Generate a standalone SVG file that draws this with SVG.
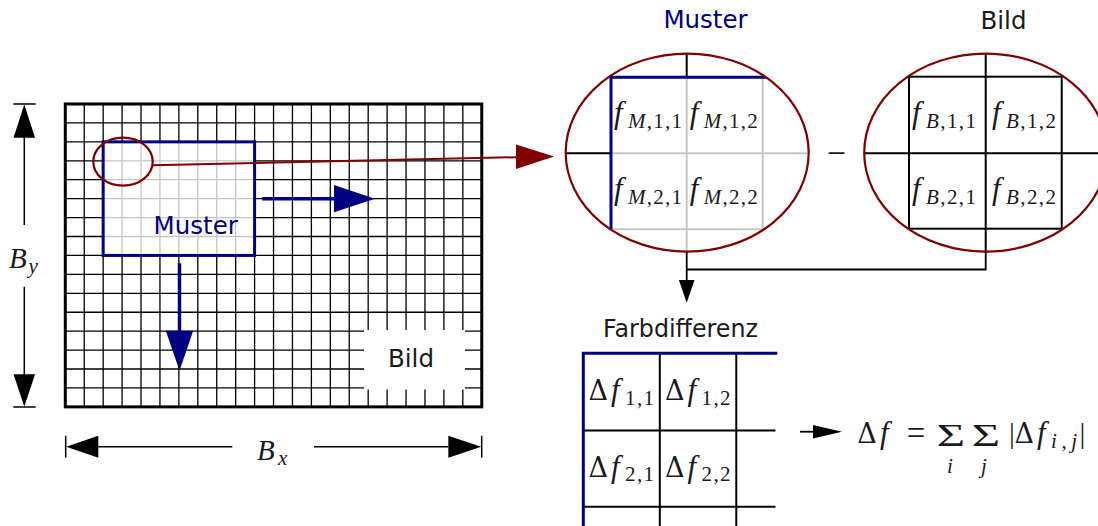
<svg xmlns="http://www.w3.org/2000/svg" width="1098" height="526" viewBox="0 0 1098 526">
<defs>
<style>
.grid{stroke:#000;stroke-width:1.3;fill:none}
.lgrid{stroke:#c6c6c6;stroke-width:1.3;fill:none}
.lgrid2{stroke:#c6c6c6;stroke-width:2;fill:none}
.blue{stroke:#000080;stroke-width:3;fill:none}
.red{stroke:#800000;stroke-width:2.2;fill:none}
.blk{stroke:#000;stroke-width:2;fill:none}
.dim{stroke:#000;stroke-width:1.5;fill:none}
.sans{font-family:"DejaVu Sans",sans-serif;font-size:24.5px;fill:#1a1a1a}
.navy{fill:#000080}
.m{font-family:"Liberation Serif",serif;font-size:29px;fill:#1a1a1a}
.it{font-style:italic}
.ff{font-style:italic;font-size:31px}
.s{font-size:21px}
.d{font-family:"DejaVu Serif",serif;font-size:27px}
.big{font-size:36px}
.sig{font-size:32px}
</style>
<clipPath id="clipM"><ellipse cx="687.2" cy="152.6" rx="121.5" ry="99"/></clipPath>
<clipPath id="clipB"><ellipse cx="985.7" cy="152.6" rx="121.5" ry="99"/></clipPath>
</defs>
<rect width="1098" height="526" fill="#fff"/>

<g id="image-grid">
<path class="grid" d="M84.23 104V406.88M103.16 104V406.88M122.09 104V406.88M141.02 104V406.88M159.95 104V406.88M178.88 104V406.88M197.81 104V406.88M216.74 104V406.88M235.67 104V406.88M254.6 104V406.88M273.53 104V406.88M292.46 104V406.88M311.39 104V406.88M330.32 104V406.88M349.25 104V406.88M368.18 104V406.88M387.11 104V406.88M406.04 104V406.88M424.97 104V406.88M443.9 104V406.88M462.83 104V406.88M65.3 122.93H481.76M65.3 141.86H481.76M65.3 160.79H481.76M65.3 179.72H481.76M65.3 198.65H481.76M65.3 217.58H481.76M65.3 236.51H481.76M65.3 255.44H481.76M65.3 274.37H481.76M65.3 293.3H481.76M65.3 312.23H481.76M65.3 331.16H481.76M65.3 350.09H481.76M65.3 369.02H481.76M65.3 387.95H481.76"/>
<rect x="103.16" y="141.86" width="151.44" height="113.58" fill="#fff"/>
<path class="lgrid" d="M122.09 141.86V255.44M141.02 141.86V255.44M159.95 141.86V255.44M178.88 141.86V255.44M197.81 141.86V255.44M216.74 141.86V255.44M235.67 141.86V255.44M103.16 160.79H254.6M103.16 179.72H254.6M103.16 198.65H254.6M103.16 217.58H254.6M103.16 236.51H254.6"/>
<rect x="364" y="330" width="101" height="59.5" fill="#fff"/>
<text class="sans" x="411" y="367.3" text-anchor="middle">Bild</text>
<rect x="65.3" y="104" width="416.46" height="302.88" fill="none" stroke="#000" stroke-width="3"/>
</g>

<g id="muster-window">
<rect class="blue" x="103.16" y="141.86" width="151.44" height="113.58"/>
<text class="sans navy" x="195.7" y="234" text-anchor="middle">Muster</text>
</g>

<g id="zoom-marker">
<ellipse class="red" cx="123" cy="161.7" rx="29.7" ry="24"/>
</g>

<g id="dim-y">
<path class="dim" d="M13.3 104H35.7M13.3 406.9H35.7M24.3 137.7V225M24.3 286.7V374.3"/>
<polygon points="24.3,104.5 13.5,137.7 35.1,137.7" fill="#000"/>
<polygon points="24.3,406.4 13.5,374.3 35.1,374.3" fill="#000"/>
<text class="m"><tspan class="it" x="9" y="268.3">B</tspan><tspan class="it s" x="28.5" y="272.8">y</tspan></text>
</g>

<g id="dim-x">
<path class="dim" d="M65.7 435.7V457.7M481.7 435.7V457.7M98.3 446.7H232.3M314 446.7H448.3"/>
<polygon points="66.2,446.7 98.3,435.7 98.3,457.7" fill="#000"/>
<polygon points="481.2,446.7 448.3,435.7 448.3,457.7" fill="#000"/>
<text class="m"><tspan class="it" x="257" y="460">B</tspan><tspan class="it s" x="278" y="464.5">x</tspan></text>
</g>

<g id="muster-zoom">
<text class="sans navy" x="705.5" y="28" text-anchor="middle">Muster</text>
<g clip-path="url(#clipM)">
<path class="blk" d="M560 153.3H611M686.7 48V77.3"/>
<path class="lgrid2" d="M611 153.3H815M686.7 77.3V260M762.7 77.3V229.3M611 229.3H762.7"/>
<path class="blue" d="M611 229.3V77.3H770"/>
</g>
<ellipse class="red" cx="687.2" cy="152.6" rx="121.5" ry="99"/>
<text class="m"><tspan class="ff" x="614" y="123">f</tspan><tspan class="s" x="628" y="127.5" textLength="54" lengthAdjust="spacing"><tspan class="it">M</tspan>,1,1</tspan></text>
<text class="m"><tspan class="ff" x="689.7" y="123">f</tspan><tspan class="s" x="703.7" y="127.5" textLength="54" lengthAdjust="spacing"><tspan class="it">M</tspan>,1,2</tspan></text>
<text class="m"><tspan class="ff" x="614" y="199">f</tspan><tspan class="s" x="628" y="203.5" textLength="54" lengthAdjust="spacing"><tspan class="it">M</tspan>,2,1</tspan></text>
<text class="m"><tspan class="ff" x="689.7" y="199">f</tspan><tspan class="s" x="703.7" y="203.5" textLength="54" lengthAdjust="spacing"><tspan class="it">M</tspan>,2,2</tspan></text>
</g>

<g id="minus">
<text class="m big" x="836.5" y="165" text-anchor="middle" textLength="19" lengthAdjust="spacingAndGlyphs">−</text>
</g>

<g id="bild-zoom">
<text class="sans" x="1003.5" y="29" text-anchor="middle">Bild</text>
<g clip-path="url(#clipB)">
<path class="blk" d="M860 153.3H1110M985.7 48V260"/>
</g>
<rect class="blk" x="909" y="76.7" width="152.7" height="152"/>
<ellipse class="red" cx="985.7" cy="152.6" rx="121.5" ry="99"/>
<text class="m"><tspan class="ff" x="912" y="123">f</tspan><tspan class="s" x="926" y="127.5" textLength="50" lengthAdjust="spacing"><tspan class="it">B</tspan>,1,1</tspan></text>
<text class="m"><tspan class="ff" x="992" y="123">f</tspan><tspan class="s" x="1006" y="127.5" textLength="50" lengthAdjust="spacing"><tspan class="it">B</tspan>,1,2</tspan></text>
<text class="m"><tspan class="ff" x="912" y="199">f</tspan><tspan class="s" x="926" y="203.5" textLength="50" lengthAdjust="spacing"><tspan class="it">B</tspan>,2,1</tspan></text>
<text class="m"><tspan class="ff" x="992" y="199">f</tspan><tspan class="s" x="1006" y="203.5" textLength="50" lengthAdjust="spacing"><tspan class="it">B</tspan>,2,2</tspan></text>
</g>

<g id="farbdifferenz">
<text class="sans" x="603" y="336.7" textLength="155" lengthAdjust="spacingAndGlyphs">Farbdifferenz</text>
<path class="blk" d="M659.8 353.3V526M736.3 353.3V526M583.3 430.5H775.5M583.3 506.7H775.5"/>
<path class="blue" d="M583.3 526V353.3H777.3"/>
<text class="m"><tspan class="d" x="588.5" y="400">Δ</tspan><tspan class="ff" x="611" y="400">f</tspan><tspan class="s" x="625" y="404.5" textLength="29">1,1</tspan></text>
<text class="m"><tspan class="d" x="665" y="400">Δ</tspan><tspan class="ff" x="687.5" y="400">f</tspan><tspan class="s" x="701.5" y="404.5" textLength="29">1,2</tspan></text>
<text class="m"><tspan class="d" x="588.5" y="476.5">Δ</tspan><tspan class="ff" x="611" y="476.5">f</tspan><tspan class="s" x="625" y="481" textLength="29">2,1</tspan></text>
<text class="m"><tspan class="d" x="665" y="476.5">Δ</tspan><tspan class="ff" x="687.5" y="476.5">f</tspan><tspan class="s" x="701.5" y="481" textLength="29">2,2</tspan></text>
</g>

<g id="formula">
<text class="m"><tspan class="d" x="857.3" y="443.3">Δ</tspan><tspan class="ff" x="880" y="443.3">f</tspan><tspan x="1009" y="443.3">|</tspan><tspan class="d" x="1014.5" y="443.3">Δ</tspan><tspan class="ff" x="1037" y="443.3">f</tspan><tspan class="s" x="1051" y="447.8" textLength="26"><tspan class="it">i</tspan>,<tspan class="it">j</tspan></tspan><tspan x="1079.5" y="443.3">|</tspan></text>
<text class="m big" x="906.7" y="445" textLength="18.5" lengthAdjust="spacingAndGlyphs">=</text>
<text class="m sig" x="936.7" y="446" textLength="28.3" lengthAdjust="spacingAndGlyphs">Σ</text>
<text class="m sig" x="971.7" y="446" textLength="28.3" lengthAdjust="spacingAndGlyphs">Σ</text>
<text class="m it s" x="947" y="473">i</text>
<text class="m it s" x="981" y="473">j</text>
</g>

<g id="connectors">
<path d="M153 165.2L517 157.2" stroke="#800000" stroke-width="2" fill="none"/>
<polygon points="554,156.4 516,144.6 516,169" fill="#800000"/>
<path d="M262.3 198.65H335" stroke="#000080" stroke-width="3.5" fill="none"/>
<polygon points="375,198.65 334,185 334,212.3" fill="#000080"/>
<path d="M179.5 263.3V332" stroke="#000080" stroke-width="3.5" fill="none"/>
<polygon points="179.5,370.7 165.8,330.7 193.2,330.7" fill="#000080"/>
<path d="M686.7 252V281M686.7 269.5H985.7V251.5" stroke="#000" stroke-width="1.8" fill="none"/>
<polygon points="686.7,302.7 678.9,280 694.5,280" fill="#000"/>
<path d="M800 431.7H815" stroke="#000" stroke-width="1.8" fill="none"/>
<polygon points="842,431.7 813,424.9 813,438.5" fill="#000"/>
</g>
</svg>
